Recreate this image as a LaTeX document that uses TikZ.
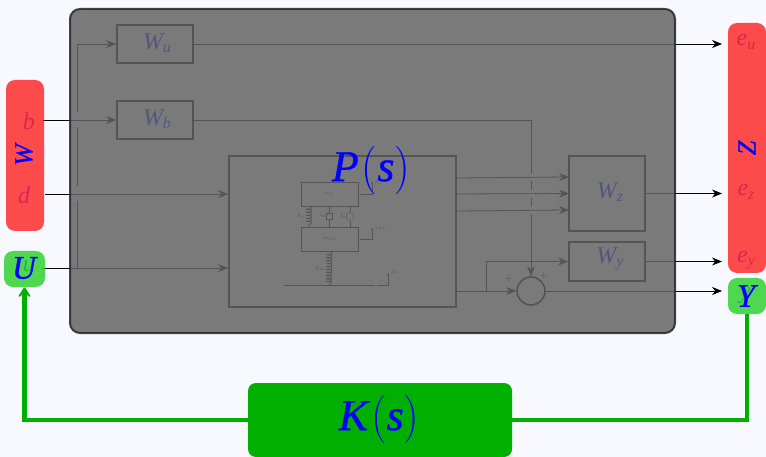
\RequirePackage{fix-cm}
\documentclass[tikz,border=0pt]{standalone}
\usepackage{amsmath}
\usepackage{fontspec}
\usetikzlibrary{arrows.meta,decorations.pathmorphing}
\newfontfamily\labelfont{Liberation Serif}
\newfontfamily\heavyfont[ItalicFeatures={FakeBold=0.8}]{Liberation Serif}
\definecolor{pagebg}{RGB}{248,248,255}
\definecolor{coverfill}{RGB}{100,100,100}
\definecolor{redfill}{RGB}{255,45,45}
\definecolor{greenfill}{RGB}{50,210,50}
\definecolor{loopgreen}{RGB}{0,176,0}
% italic letter with its lowered index
\newcommand{\indexed}[2]{#1\raisebox{-3.5pt}{\fontsize{16}{16}\selectfont #2}}
% heavier letter at a given size
\newcommand{\boldletter}[2]{\fontsize{#1}{#1}\selectfont\heavyfont\itshape #2}
% transfer function with tall thin brackets
\newcommand{\tallparen}[1]{\raisebox{-1pt}{\scalebox{1}[1.1]{$#1$}}}
\newcommand{\transfer}[1]{\fontsize{44}{44}\selectfont{\heavyfont\itshape #1}\hspace{3pt}\tallparen{(}{\heavyfont\itshape s}\tallparen{)}}
\begin{document}
\begin{tikzpicture}[x=1pt,y=-1pt,>={Stealth[length=10pt,width=8pt]},thick,
    block/.style={draw,line width=1.6pt,inner sep=0pt},
    wlabel/.style={blue,font=\fontsize{24}{24}\selectfont\labelfont\itshape,inner sep=0pt},
    tiny label/.style={font=\fontsize{5}{5}\selectfont,inner sep=0pt},
    jump/.style={preaction={draw=pagebg,-,line width=#1,shorten <=3pt,shorten >=3pt}},
    flow/.style={->,line width=0.8pt}]

    \useasboundingbox (0,0) rectangle (766,457);
    \fill[pagebg] (0,0) rectangle (766,457);

    % blocks
    \node[block,minimum width=76pt,minimum height=38pt] (wu) at (155,44) {};
    \node[block,minimum width=76pt,minimum height=38pt] (wb) at (155,120) {};
    \node[block,minimum width=227pt,minimum height=151pt] (plant) at (342.5,231.5) {};
    \node[block,minimum width=76pt,minimum height=75pt] (wz) at (607,193.5) {};
    \node[block,minimum width=76pt,minimum height=39pt] (wy) at (607,261.5) {};
    \node[circle,draw,line width=1.6pt,minimum size=28pt,inner sep=0pt] (sum) at (531,291) {};

    \node[wlabel] at (157,43) {\indexed{W}{u}};
    \node[wlabel] at (157,119) {\indexed{W}{b}};
    \node[wlabel] at (610,192) {\indexed{W}{z}};
    \node[wlabel] at (610,259) {\indexed{W}{y}};
    \node[font=\fontsize{11}{11}\selectfont,inner sep=0pt] at (509,279) {$+$};
    \node[font=\fontsize{11}{11}\selectfont,inner sep=0pt] at (544,276) {$+$};

    % signal labels, under the coloured boxes
    \node[wlabel] (b) at (29,121) {b};
    \node[wlabel] (d) at (24,195) {d};
    \node[wlabel] (u) at (29,266) {u};
    \node[wlabel] (eu) at (746,42) {\indexed{e}{u}};
    \node[wlabel] (ez) at (746,192) {\indexed{e}{z}};
    \node[wlabel] (ey) at (746,260) {\indexed{e}{y}};
    \node[wlabel] (y) at (745,296) {y};

    % suspension
    \node[draw,minimum width=57pt,minimum height=24pt,inner sep=0pt,tiny label] (ms) at (329.5,194) {$m_s$};
    \node[draw,minimum width=57pt,minimum height=24pt,inner sep=0pt,tiny label] (mus) at (329.5,239) {$m_{us}$};
    \coordinate (ground) at (329,285);
    \draw[decorate,decoration={coil,aspect=0.4,segment length=3pt,amplitude=2.5pt}] (309,206) -- (309,227);
    \draw[decorate,decoration={coil,aspect=0.4,segment length=3pt,amplitude=2.5pt}] (mus.south) -- (ground);
    \draw (284,285) -- (375,285);
    \node[draw,line width=0.4pt,minimum size=6pt,inner sep=0pt] (damper) at (329,216) {};
    \node[circle,draw,line width=0.4pt,minimum size=8pt,inner sep=0pt] (actuator) at (350,216.5) {};
    \draw[line width=0.5pt] (329,206) -- (damper) -- (329,227);
    \draw[line width=0.5pt] (350,206) -- (actuator) -- (350,227);
    \node[tiny label] at (301,216) {$k_s$};
    \node[tiny label] at (323,216) {$c_s$};
    \node[tiny label] at (343,216) {$f_a$};
    \node[tiny label] at (321,268) {$k_{us}$};
    \draw[line width=0.6pt,->,>={Stealth[length=2pt,width=2pt]}] (360,194) -- (372,194) -- (372,182);
    \node[tiny label,anchor=west] at (374,183) {$z_s$};
    \draw[line width=0.6pt,->,>={Stealth[length=2pt,width=2pt]}] (360,239) -- (372,239) -- (372,228);
    \node[tiny label,anchor=west] at (374,228) {$z_{us}$};
    \draw[line width=0.6pt,->,>={Stealth[length=2pt,width=2pt]}] (377,285) -- (388,285) -- (388,273);
    \node[tiny label,anchor=west] at (391,273) {$z_r$};

    % connectors
    \coordinate (ustart) at (42,268);
    \coordinate (bstart) at (42,120);
    \coordinate (dstart) at (45,194);
    \coordinate (branch) at (77,268);
    \coordinate (tap) at (486,291);
    \coordinate (zupper) at (456,178);
    \coordinate (zmid) at (456,194);
    \coordinate (zlower) at (456,211);
    \draw[flow] (branch) |- (wu.west);
    \draw[flow] (wb.east) -| (sum.north);
    \draw[flow] (ustart) -- (ustart -| plant.west);
    \draw[flow,jump=15pt] (bstart) -- (wb.west);
    \draw[flow,jump=15pt] (dstart) -- (dstart -| plant.west);
    \draw[flow,jump=8pt] (zupper) -- (569,177);
    \draw[flow,jump=8pt] (zmid) -- (569,193.5);
    \draw[flow,jump=8pt] (zlower) -- (569,210);
    \draw[flow] (plant.east |- sum) -- (sum.west);
    \draw[flow] (tap) |- (wy.west);
    \draw[flow] (wu.east) -- (722,44);
    \draw[flow] (wz.east) -- (722,193.5);
    \draw[flow] (wy.east) -- (722,261.5);
    \draw[flow] (sum.east) -- (722,291);

    % translucent boxes
    \node[draw=black!85,line width=2pt,fill=coverfill,fill opacity=0.85,draw opacity=0.85,rounded corners=10pt,minimum width=605pt,minimum height=324pt,inner sep=0pt] (cover) at (372.5,171) {};
    \node[fill=redfill,fill opacity=0.85,rounded corners=9pt,minimum width=38pt,minimum height=151pt,inner sep=0pt] (wbox) at (25,155.5) {};
    \node[fill=redfill,fill opacity=0.85,rounded corners=9pt,minimum width=38pt,minimum height=250pt,inner sep=0pt] (zbox) at (747,148) {};
    \node[fill=greenfill,fill opacity=0.85,rounded corners=9pt,minimum width=41pt,minimum height=36pt,inner sep=0pt] (ubox) at (24.5,269) {};
    \node[fill=greenfill,fill opacity=0.85,rounded corners=9pt,minimum width=38pt,minimum height=36pt,inner sep=0pt] (ybox) at (747,296) {};
    \node[fill=loopgreen,rounded corners=8pt,minimum width=264pt,minimum height=74pt,inner sep=0pt] (ctrl) at (380,420) {};

    % feedback loop
    \draw[loopgreen,line width=4.5pt,->,>={Stealth[length=13pt,width=17pt,inset=7pt,round]}] (ctrl.west) -| (ubox.south);
    \draw[loopgreen,line width=4.5pt] (ctrl.east) -| (ybox.south);

    % big labels
    \node[blue,inner sep=0pt] at (371,170) {\transfer{P}};
    \node[blue,inner sep=0pt] at (379,419) {\transfer{K}};
    \node[blue,inner sep=0pt,rotate=90] at (24,155) {\boldletter{26}{W}};
    \node[blue,inner sep=0pt,rotate=90] at (747,148) {\boldletter{26}{Z}};
    \node[blue,inner sep=0pt] at (24,268) {\boldletter{33}{U}};
    \node[blue,inner sep=0pt] at (746,296) {\boldletter{33}{Y}};
\end{tikzpicture}
\end{document}
